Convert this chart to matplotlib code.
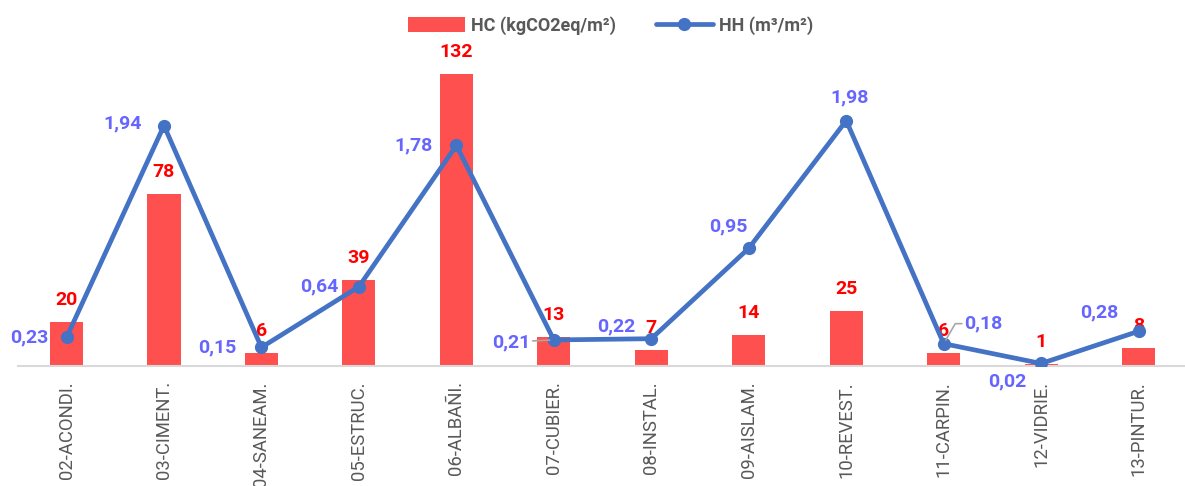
import matplotlib.pyplot as plt
import numpy as np

plt.rcParams['font.family'] = ['Roboto', 'DejaVu Sans']

# partidas de obra
categorias = ['02-ACONDI.', '03-CIMENT.', '04-SANEAM.', '05-ESTRUC.', '06-ALBAÑI.', '07-CUBIER.',
              '08-INSTAL.', '09-AISLAM.', '10-REVEST.', '11-CARPIN.', '12-VIDRIE.', '13-PINTUR.']
hc = [20, 78, 6, 39, 132, 13, 7, 14, 25, 6, 1, 8]                                      # kgCO2eq/m2
hh = [0.23, 1.94, 0.15, 0.64, 1.78, 0.21, 0.22, 0.95, 1.98, 0.18, 0.02, 0.28]          # m3/m2

# desplazamiento (px) de las etiquetas de la linea respecto al punto
off_hh = [(-37, 0), (-41, 2), (-44, 0), (-40, 0), (-43, 0), (-43, -2),
          (-35, 12), (-20, 22), (3, 23), (40, 20), (-34, -18), (-39, 19)]

ROJO = '#FF5050'
AZUL = '#4472C4'
LILA = '#6666FF'
GRIS = '#595959'

fig = plt.figure(figsize=(11.85, 4.86), dpi=100)
ax = fig.add_axes([0.015, 0.247, 0.987, 0.66])
ax2 = ax.twinx()

x = np.arange(len(categorias))
barras = ax.bar(x, hc, width=0.34, color=ROJO, label='HC (kgCO2eq/m²)', zorder=2)
linea, = ax2.plot(x, hh, color=AZUL, lw=3.4, marker='o', ms=8.5, label='HH (m³/m²)',
                  solid_capstyle='round', zorder=3)

ax.set_xlim(-0.5, len(categorias) - 0.5)
ax.set_ylim(0, 145.1)
ax2.set_ylim(0, 2.589)

# etiquetas de las barras
for xi, v in zip(x, hc):
    ax.annotate(str(v), (xi, v), xytext=(0, 22), textcoords='offset pixels',
                ha='center', va='center', color='#FF0000', fontsize=14, fontweight='bold', zorder=5)

# etiquetas de la linea
for i, (xi, v) in enumerate(zip(x, hh)):
    txt = f'{v:.2f}'.replace('.', ',')
    dx, dy = off_hh[i]
    kw = {}
    if i == 5:
        kw['arrowprops'] = dict(arrowstyle='-', color='#A6A6A6', lw=1.2, shrinkA=0, shrinkB=3)
    if i == 9:
        kw['arrowprops'] = dict(arrowstyle='-', color='#A6A6A6', lw=1.2, shrinkA=0, shrinkB=3,
                                connectionstyle='angle,angleA=0,angleB=60,rad=0')
    ax2.annotate(txt, (xi, v), xytext=(dx, dy), textcoords='offset pixels',
                 ha='center', va='center', color=LILA, fontsize=14, fontweight='bold', zorder=6, **kw)

ax.set_xticks(x)
ax.set_xticklabels(categorias, rotation=90, fontsize=13.3, color=GRIS, va='top')
ax.tick_params(axis='x', length=0, pad=11)
ax.set_yticks([])
ax2.set_yticks([])

for a in (ax, ax2):
    for s in ('top', 'right', 'left', 'bottom'):
        a.spines[s].set_visible(False)
ax.spines['bottom'].set_visible(True)
ax.spines['bottom'].set_color('#D9D9D9')
ax.spines['bottom'].set_linewidth(1.5)

leg = fig.legend(handles=[barras, linea], loc='upper center', bbox_to_anchor=(0.515, 1.0),
                 ncol=2, frameon=False, handlelength=3.2, handleheight=0.9, handletextpad=0.3,
                 columnspacing=2.2, prop={'size': 13, 'weight': 'bold'})
for t in leg.get_texts():
    t.set_color(GRIS)

fig.savefig('out.png', dpi=100, facecolor='white')
